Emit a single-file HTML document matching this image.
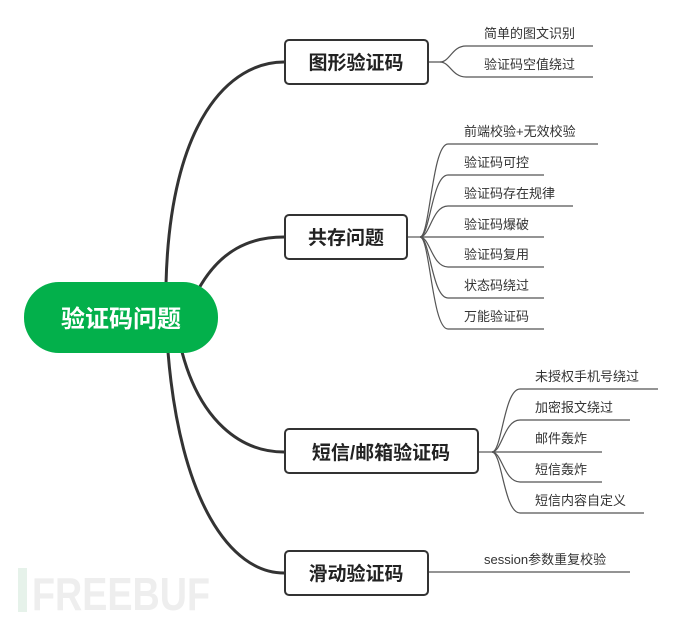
<!DOCTYPE html>
<html><head><meta charset="utf-8"><style>
html,body{margin:0;padding:0;background:#fff}
svg{display:block}
text{font-family:"Liberation Sans","Noto Sans CJK SC",sans-serif}
</style></head><body>
<svg width="690" height="617" viewBox="0 0 690 617">
<g fill="none" stroke="#333" stroke-width="3">
<path d="M166,284 C170,120 230,62 284,62"/>
<path d="M198,290 C220,250 250,237 284,237"/>
<path d="M182,352 C200,420 240,452 284,452"/>
<path d="M168,352 C180,500 230,573 284,573"/>
</g>
<g fill="none" stroke="#555" stroke-width="1.2">
<path d="M429,62 L440,62 C450,62 452,46 466,46 L593,46"/>
<path d="M440,62 C450,62 452,77 466,77 L593,77"/>
<path d="M408,237 L420,237"/>
<path d="M420,237 C430,237 432,144 448,144 L598,144"/>
<path d="M420,237 C430,237 432,175 448,175 L544,175"/>
<path d="M420,237 C430,237 432,206 448,206 L573,206"/>
<path d="M420,237 L544,237"/>
<path d="M420,237 C430,237 432,267 448,267 L544,267"/>
<path d="M420,237 C430,237 432,298 448,298 L544,298"/>
<path d="M420,237 C430,237 432,329 448,329 L544,329"/>
<path d="M479,452 L492,452"/>
<path d="M492,452 C502,452 504,389 520,389 L658,389"/>
<path d="M492,452 C502,452 504,420 520,420 L630,420"/>
<path d="M492,452 L602,452"/>
<path d="M492,452 C502,452 504,482 520,482 L602,482"/>
<path d="M492,452 C502,452 504,513 520,513 L644,513"/>
<path d="M429,572 L630,572"/>
</g>
<g fill="#fff" stroke="#333" stroke-width="2">
<rect x="285" y="40" width="143" height="44" rx="4"/>
<rect x="285" y="215" width="122" height="44" rx="4"/>
<rect x="285" y="429" width="193" height="44" rx="4"/>
<rect x="285" y="551" width="143" height="44" rx="4"/>
</g>
<rect x="24" y="282" width="194" height="71" rx="35" fill="#03b04b"/>
<text x="121" y="327" font-size="24" font-weight="bold" fill="#fff" text-anchor="middle">验证码问题</text>
<g font-size="19" font-weight="bold" fill="#222" text-anchor="middle">
<text x="356" y="69">图形验证码</text>
<text x="346" y="244">共存问题</text>
<text x="381" y="459">短信/邮箱验证码</text>
<text x="356" y="580">滑动验证码</text>
</g>
<g font-size="13" fill="#333">
<text x="484" y="38">简单的图文识别</text>
<text x="484" y="69">验证码空值绕过</text>
<text x="464" y="136">前端校验+无效校验</text>
<text x="464" y="167">验证码可控</text>
<text x="464" y="198">验证码存在规律</text>
<text x="464" y="229">验证码爆破</text>
<text x="464" y="259">验证码复用</text>
<text x="464" y="290">状态码绕过</text>
<text x="464" y="321">万能验证码</text>
<text x="535" y="381">未授权手机号绕过</text>
<text x="535" y="412">加密报文绕过</text>
<text x="535" y="443">邮件轰炸</text>
<text x="535" y="474">短信轰炸</text>
<text x="535" y="505">短信内容自定义</text>
<text x="484" y="564">session参数重复校验</text>
</g>
<rect x="18" y="568" width="9" height="44" fill="#e6f2ea"/>
<text x="32" y="610" font-size="46" font-weight="bold" fill="#eeeeee" textLength="178" lengthAdjust="spacingAndGlyphs">FREEBUF</text>
</svg>
</body></html>
